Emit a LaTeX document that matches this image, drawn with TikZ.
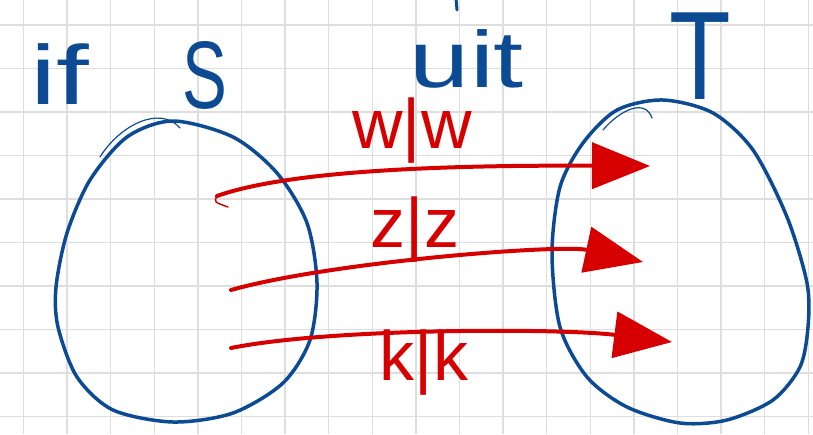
\documentclass[tikz,border=0pt]{standalone}
\usepackage{fontspec}
\setmainfont{Liberation Sans}
\usetikzlibrary{arrows.meta}
\definecolor{stiftblauw}{RGB}{12,74,148}
\definecolor{stiftrood}{RGB}{214,0,0}
\definecolor{rastergrijs}{RGB}{222,222,222}

\begin{document}
\begin{tikzpicture}[x=1pt, y=-1pt,
    raster/.style={draw=rastergrijs,line width=1.5pt},
    verz/.style={draw=stiftblauw,line width=3.5pt,line cap=round,line join=round},
    overgang/.style={draw=stiftrood,line width=4pt,line cap=round,-{Triangle[length=58pt,width=46pt]}},
    staart/.style={draw=stiftrood,line width=1.5pt,line cap=round},
    pijllabel/.style={text=stiftrood,font=\fontsize{70}{72}\selectfont,inner sep=0pt,anchor=base},
    kop/.style={text=stiftblauw,inner sep=0pt,anchor=base,transform shape}]
    \useasboundingbox (0,0) rectangle (813,434);
    \clip (0,0) rectangle (813,434);

    % ruitjespapier
    \foreach \gx in {0,...,18}
        \draw[raster] ({23.5+43.6*\gx},0) -- ({23.5+43.6*\gx},434);
    \foreach \gy in {0,...,9}
        \draw[raster] (0,{25+43.5*\gy}) -- (813,{25+43.5*\gy});

    % koppen
    \node[kop,xscale=1.4,font=\fontsize{84}{86}\selectfont] (als) at (60,104) {if};
    \node[kop,xscale=0.7,font=\fontsize{96}{98}\selectfont] (S) at (205,108) {S};
    \node[kop,xscale=1.35,font=\fontsize{80}{82}\selectfont] (uit) at (467,87) {uit};
    \node[kop,xscale=0.8,font=\fontsize{126}{128}\selectfont] (T) at (700,99) {T};
    \draw[verz,line width=3pt] (456,-2) -- (457,10);

    % verzameling S
    \draw[verz] plot[smooth cycle] coordinates {(173,121) (233,137) (277,173) (307,223) (317,283) (310,340) (283,383) (233,413) (173,422) (113,410) (77,377) (58,327) (56,287) (67,233) (90,180) (127,137)};
    \draw[verz,line width=1.2pt] (100,157) .. controls (120,125) and (160,105) .. (180,128);

    % verzameling T
    \draw[verz] plot[smooth cycle] coordinates {(663,100) (713,113) (753,150) (787,217) (807,283) (808,327) (800,367) (773,400) (727,420) (680,423) (627,407) (587,377) (560,327) (552,253) (560,187) (583,143) (617,110)};
    \draw[verz,line width=1.2pt] (603,130) .. controls (620,110) and (645,98) .. (652,118);

    % overgangen
    \coordinate (w-start) at (217,196);
    \coordinate (w-eind) at (650,166);
    \coordinate (w-staart) at (228,207);
    \coordinate (z-start) at (231,290);
    \coordinate (z-eind) at (643,262);
    \coordinate (k-start) at (231,348);
    \coordinate (k-eind) at (672,342);

    \draw[overgang] (w-start) .. controls (290,170) and (450,165) .. (w-eind);
    \draw[staart] (w-start) .. controls (214,202) .. (w-staart);
    \draw[overgang] (z-start) .. controls (330,262) and (560,244) .. (z-eind);
    \draw[overgang] (k-start) .. controls (330,328) and (560,328) .. (k-eind);

    \node[pijllabel] (w-label) at (412,148) {w|w};
    \node[pijllabel] (z-label) at (415,247) {z|z};
    \node[pijllabel] (k-label) at (424,380) {k|k};
\end{tikzpicture}
\end{document}
